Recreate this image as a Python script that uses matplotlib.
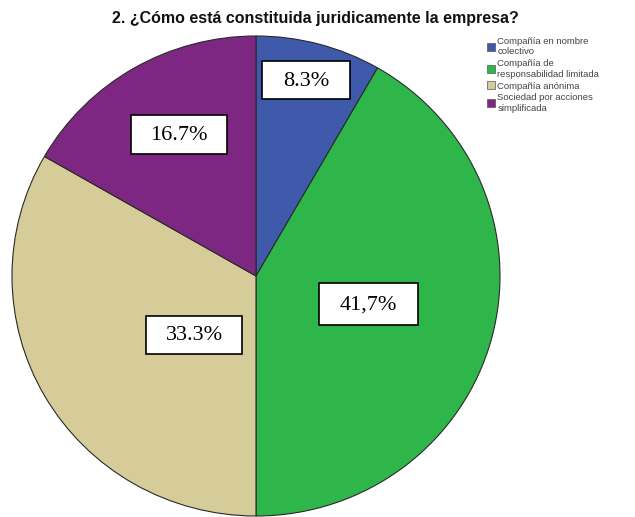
import matplotlib.pyplot as plt
from matplotlib.patches import Patch, Rectangle

# Legal form of the companies surveyed
categorias = ["Compañía en nombre\ncolectivo",
              "Compañía de\nresponsabilidad limitada",
              "Compañía anónima",
              "Sociedad por acciones\nsimplificada"]
porcentajes = [8.3, 41.7, 33.3, 16.7]
etiquetas = ["8.3%", "41,7%", "33.3%", "16.7%"]
colores = ["#3F5AAA", "#2EB64A", "#D5CC9A", "#7D2783"]

W, H = 635, 517
fig = plt.figure(figsize=(W / 100, H / 100), dpi=100)

fig.text(315 / W, 1 - 19 / H, "2. ¿Cómo está constituida juridicamente la empresa?",
         ha="center", va="center", fontsize=11.5, fontweight="bold",
         family="Liberation Sans", color="#111111")

# pie occupies pixel box x 12..500, y 36..516
ax = fig.add_axes([12 / W, 1 - 516 / H, 488 / W, 480 / H])
ax.pie(porcentajes, colors=colores, startangle=90, counterclock=False,
       radius=1, wedgeprops=dict(edgecolor="#2a2a2a", linewidth=0.8))
ax.set_xlim(-1, 1)
ax.set_ylim(-1, 1)
ax.set_aspect("auto")
ax.axis("off")

# label boxes: left, top, width, height in pixels
cajas = [(262, 61, 88, 38), (319, 283, 99, 42), (146, 316, 96, 38), (131, 115, 96, 39)]
for (x, y, w, h), txt in zip(cajas, etiquetas):
    fig.patches.append(Rectangle((x / W, 1 - (y + h) / H), w / W, h / H,
                                 transform=fig.transFigure, fc="white",
                                 ec="black", lw=1.2, zorder=5))
    fig.text((x + w / 2) / W, 1 - (y + h / 2 + 1) / H, txt, ha="center", va="center",
             fontsize=16, family="Liberation Serif", color="black", zorder=6)

handles = [Patch(facecolor=c, edgecolor="#555555", linewidth=0.5) for c in colores]
fig.legend(handles, categorias, loc="upper left", bbox_to_anchor=(487 / W, 1 - 37 / H),
           frameon=False, labelcolor="#444444",
           handlelength=0.85, handleheight=0.85, handletextpad=0.25,
           labelspacing=0.3, borderaxespad=0, borderpad=0,
           prop=dict(family="Liberation Sans", size=6.8))

fig.savefig("out.png", dpi=100)
